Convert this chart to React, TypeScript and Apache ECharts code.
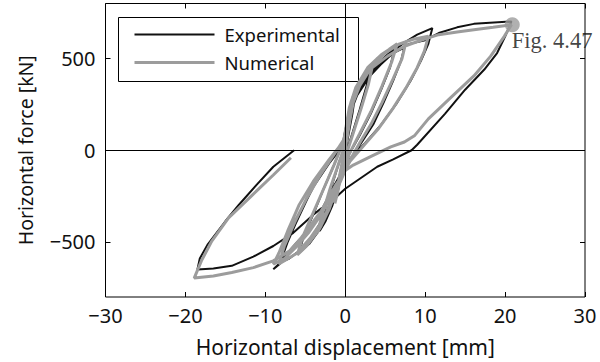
import React, { useEffect, useRef } from "react";
import * as echarts from "echarts";

const xTicks = [-30, -20, -10, 0, 10, 20, 30];
const yTicks = [-500, 0, 500];

const experimental: number[][] = [
  [0, 0], [0.4, 120], [0.8, 230], [1.2, 290], [0.9, 200], [0.3, 60], [-0.3, -80], [-0.8, -200], [-1.2, -270], [-0.9, -180], [-0.3, -50],
  [0.3, 80], [0.8, 220], [1.5, 310], [2.5, 400], [3.2, 440], [2.6, 340], [1.8, 220], [0.8, 80], [0, -30], [-0.8, -180], [-1.6, -300], [-2.5, -390], [-3.2, -440], [-2.6, -330], [-1.8, -210], [-0.8, -70], [0, 30],
  [0.6, 180], [1.2, 280], [2.5, 380], [4, 470], [5.5, 530], [6.2, 560], [5.6, 450], [4.5, 330], [3.2, 200], [1.8, 80], [0.5, -20], [-0.6, -150], [-1.8, -300], [-3, -420], [-4.5, -510], [-5.8, -560], [-5.2, -470], [-4, -350], [-2.8, -220], [-1.5, -90], [-0.3, 40],
  [0.5, 220], [1, 300], [1.8, 330], [3, 420], [4.5, 480], [6, 530], [7.4, 560], [7, 490], [6, 380], [4.8, 260], [3.5, 140], [2, 40], [0.5, -60], [-1, -200], [-2.5, -350], [-4, -460], [-5.5, -540], [-7, -590], [-8.1, -610], [-7.4, -520], [-6.2, -400], [-4.8, -270], [-3.3, -140], [-1.6, -30], [0, 60],
  [0.6, 200], [1.5, 300], [3, 400], [4.5, 470], [6, 540], [7.5, 590], [9, 630], [10.9, 666], [10.4, 580], [9.5, 490], [8.2, 380], [6.5, 260], [4.5, 140], [2.5, 40], [0.5, -50], [-1.5, -200], [-3, -330], [-4.5, -430], [-6, -500], [-7.2, -560], [-8.3, -620], [-9, -648], [-8.2, -620], [-7.2, -500], [-5.8, -350], [-4, -200], [-2, -70], [0, 40],
  [0.8, 250], [2, 350], [4, 450], [6, 530], [8, 580], [10, 600], [11.7, 639], [14, 670], [16.1, 689], [20.8, 702],
  [20, 620], [19, 530], [17.4, 440], [15, 330], [12.5, 200], [9, 30], [8.3, 0], [6, -50], [4, -90], [2, -150], [0, -210],
  [-1, -250], [-2.5, -300], [-4, -351], [-6.5, -450], [-9, -522], [-11.5, -580], [-14.2, -630], [-16.5, -645], [-18.5, -650],
  [-18.2, -590], [-17.2, -513], [-15, -387], [-13.3, -297], [-11.1, -189], [-9, -90], [-6.4, 0],
];

const numerical: number[][] = [
  [0, 0], [0.3, 150], [0.7, 260], [1.1, 310], [0.8, 220], [0.2, 60], [-0.4, -100], [-0.9, -220], [-1.3, -290], [-1, -200], [-0.3, -50],
  [0.4, 120], [1, 260], [1.8, 350], [2.8, 420], [3.4, 460], [2.9, 360], [2, 230], [0.9, 80], [0, -40], [-1, -200], [-2, -320], [-3, -410], [-3.5, -450], [-2.8, -340], [-1.9, -210], [-0.8, -70], [0, 30],
  [0.5, 200], [1.2, 320], [2.4, 420], [4, 500], [5.5, 550], [6.5, 580], [5.8, 480], [4.6, 350], [3.2, 210], [1.8, 90], [0.5, -20], [-0.8, -170], [-2, -320], [-3.4, -440], [-4.8, -520], [-6, -570], [-5.3, -470], [-4, -340], [-2.7, -210], [-1.4, -80], [-0.2, 50],
  [0.5, 230], [1.3, 340], [2.8, 450], [4.5, 520], [6.2, 570], [7.6, 590], [7.1, 500], [6, 390], [4.6, 260], [3.2, 140], [1.8, 40], [0.4, -70], [-1.2, -230], [-2.8, -380], [-4.4, -480], [-6, -560], [-7.5, -600], [-8.3, -620], [-7.6, -520], [-6.3, -390], [-4.8, -260], [-3.2, -140], [-1.5, -30], [0, 70],
  [0.6, 240], [1.6, 350], [3.2, 450], [5, 530], [6.8, 580], [8.5, 605], [10.4, 621], [9.9, 540], [9, 450], [7.6, 340], [6, 230], [4.2, 120], [2.4, 30], [0.6, -60], [-1.4, -220], [-3, -350], [-4.6, -450], [-6.2, -530], [-7.6, -590], [-9, -621], [-8.3, -560], [-7.2, -440], [-5.8, -300], [-4, -170], [-2, -50], [0, 60],
  [0.5, 225], [1.4, 333], [3.1, 441], [5.3, 513], [7.4, 567], [10, 607], [11.7, 630], [14, 645], [16.1, 657], [18.5, 670], [20.8, 684],
  [19.9, 621], [18.2, 513], [16.1, 405], [13, 279], [10.4, 171], [8.7, 81], [7.4, 45], [5.7, 18], [3.1, -36], [1, -81], [0, -110],
  [-1.2, -190], [-3, -330], [-5.5, -477], [-7, -550], [-9, -603], [-11.5, -640], [-14.2, -666], [-16.5, -685], [-18.9, -697],
  [-18, -603], [-16.7, -495], [-14.6, -369], [-11.6, -243], [-9, -135], [-6.8, -41],
];

const peakMarker: number[][] = [[20.9, 684]];

const seriesNames = ["Experimental", "Numerical"];
const annotation = "Fig. 4.47";
const xName = "Horizontal displacement [mm]";
const yName = "Horizontal force [kN]";

const BLACK = "#111111";
const GRAY = "#9c9c9c";
const FONT = "'Noto Sans', sans-serif";

const fmt = (v: number) => (v < 0 ? "\u2212" + Math.abs(v) : String(v));

export default function App() {
  const ref = useRef<HTMLDivElement>(null);
  useEffect(() => {
    if (!ref.current) return;
    const chart = echarts.init(ref.current, undefined, { renderer: "svg" });
    const grid = { left: 105.5, top: 3.5, right: 15, bottom: 61.5 };
    const tickCommon = { show: true, inside: true, length: 5, lineStyle: { color: "#000", width: 1 } };
    chart.setOption({
      animation: false,
      backgroundColor: "#fff",
      grid: { ...grid, show: true, borderColor: "#000", borderWidth: 1, backgroundColor: "transparent" },
      xAxis: [
        {
          type: "value", min: -30, max: 30, position: "bottom",
          axisLine: { show: false, onZero: false },
          axisTick: { ...tickCommon, customValues: xTicks },
          axisLabel: { customValues: xTicks, formatter: fmt, color: "#111", fontSize: 20, fontFamily: FONT, margin: 8 },
          splitLine: { show: false },
          name: xName, nameLocation: "middle", nameGap: 39,
          nameTextStyle: { color: "#111", fontSize: 21, fontFamily: FONT },
        },
        {
          type: "value", min: -30, max: 30, position: "top",
          axisLine: { show: false, onZero: false },
          axisTick: { ...tickCommon, customValues: xTicks },
          axisLabel: { show: false },
          splitLine: { show: false },
        },
      ],
      yAxis: [
        {
          type: "value", min: -800, max: 800, position: "left",
          axisLine: { show: false, onZero: false },
          axisTick: { ...tickCommon, customValues: yTicks },
          axisLabel: { customValues: yTicks, formatter: fmt, color: "#111", fontSize: 20, fontFamily: FONT, margin: 10 },
          splitLine: { show: false },
          name: yName, nameLocation: "middle", nameGap: 70,
          nameTextStyle: { color: "#111", fontSize: 19.5, fontFamily: FONT },
        },
        {
          type: "value", min: -800, max: 800, position: "right",
          axisLine: { show: false, onZero: false },
          axisTick: { ...tickCommon, customValues: yTicks },
          axisLabel: { show: false },
          splitLine: { show: false },
        },
      ],
      series: [
        {
          name: "zero", type: "line", data: [], silent: true,
          markLine: {
            silent: true, symbol: ["none", "none"], label: { show: false },
            lineStyle: { color: "#000", width: 1, type: "solid" },
            data: [{ xAxis: 0 }, { yAxis: 0 }],
          },
        },
        {
          name: seriesNames[0], type: "line", data: experimental, showSymbol: false, smooth: false,
          lineStyle: { color: BLACK, width: 2 }, itemStyle: { color: BLACK }, z: 3,
        },
        {
          name: seriesNames[1], type: "line", data: numerical, showSymbol: false, smooth: false,
          lineStyle: { color: GRAY, width: 3 }, itemStyle: { color: GRAY }, z: 4,
        },
        {
          name: "peak", type: "scatter", data: peakMarker, symbol: "circle", symbolSize: 15,
          itemStyle: { color: GRAY }, z: 5,
          label: {
            show: true, formatter: annotation, position: "right", distance: 0, offset: [-8, 16],
            fontFamily: "'Liberation Serif', 'Times New Roman', serif", fontSize: 22.5, color: "#111",
          },
        },
      ],
      graphic: [
        {
          type: "group", left: 118, top: 17,
          children: [
            { type: "rect", shape: { x: 0, y: 0, width: 240, height: 64 }, style: { fill: "#fff", stroke: "#000", lineWidth: 1 } },
            { type: "line", shape: { x1: 16, y1: 17, x2: 96, y2: 17 }, style: { stroke: BLACK, lineWidth: 2 } },
            { type: "line", shape: { x1: 16, y1: 45, x2: 96, y2: 45 }, style: { stroke: GRAY, lineWidth: 3 } },
            { type: "text", x: 106, y: 17, style: { text: seriesNames[0], fontSize: 18.5, fontFamily: FONT, fill: "#111", verticalAlign: "middle" } },
            { type: "text", x: 106, y: 45, style: { text: seriesNames[1], fontSize: 18.5, fontFamily: FONT, fill: "#111", verticalAlign: "middle" } },
          ],
        },
      ],
    });
    return () => chart.dispose();
  }, []);
  return <div ref={ref} style={{ width: 600, height: 362, position: "absolute", left: 0, top: 0 }} />;
}
